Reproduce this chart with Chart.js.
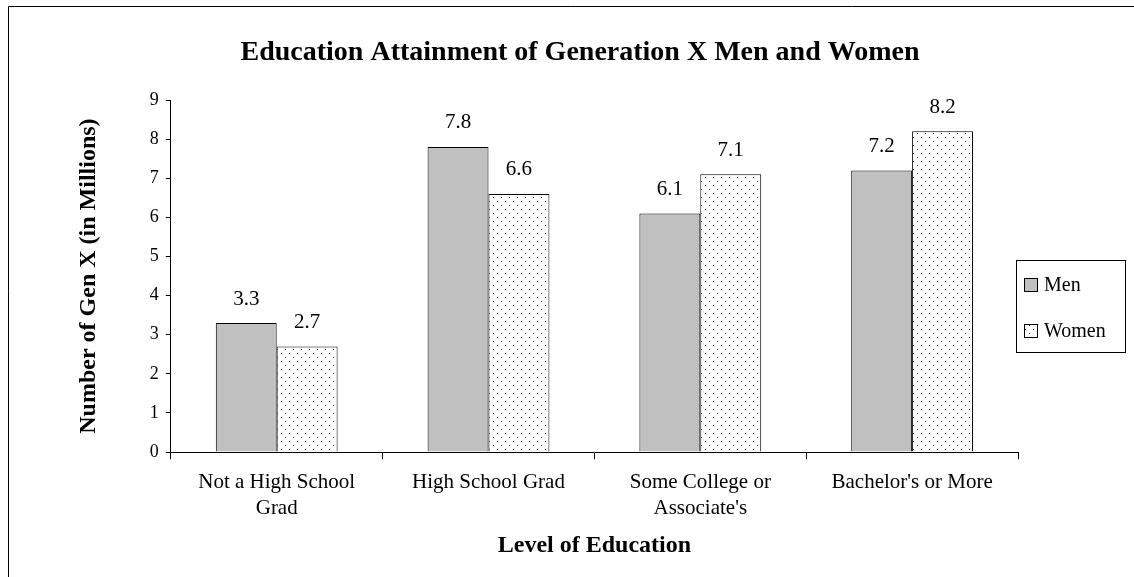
<!DOCTYPE html>
<html><head><meta charset="utf-8">
<script src="https://cdn.jsdelivr.net/npm/chart.js@4/dist/chart.umd.min.js"></script>
<style>html,body{margin:0;padding:0;background:#fff}#wrap{width:1134px;height:577px}</style>
</head><body><div id="wrap"><canvas id="c" width="1134" height="577"></canvas></div>
<script>
const chartTitle = 'Education Attainment of Generation X Men and Women';
const categories = [["Not a High School","Grad"], "High School Grad", ["Some College or","Associate's"], "Bachelor's or More"];
const menValues = [3.3, 7.8, 6.1, 7.2];
const womenValues = [2.7, 6.6, 7.1, 8.2];
const seriesNames = ["Men", "Women"];
const yTicks = [0,1,2,3,4,5,6,7,8,9];

const FONT = "'Liberation Serif', 'Times New Roman', serif";

function makeDots(){
  const p = document.createElement('canvas'); p.width = 8; p.height = 8;
  const g = p.getContext('2d');
  g.fillStyle = '#fff'; g.fillRect(0,0,8,8);
  g.fillStyle = '#333';
  g.fillRect(1,1,1,1); g.fillRect(5,5,1,1);
  return g.createPattern(p, 'repeat');
}
const ctx = document.getElementById('c').getContext('2d');
const dots = makeDots();

const framePlugin = {
  id: 'frame',
  afterDraw(chart){
    const c = chart.ctx;
    c.save();
    c.strokeStyle = '#000'; c.lineWidth = 1;
    c.beginPath();
    c.moveTo(8.5, 577); c.lineTo(8.5, 6.5); c.lineTo(1134, 6.5);
    c.stroke();
    // title
    c.fillStyle = '#000';
    c.font = "bold 28px " + FONT; c.textAlign = 'center'; c.textBaseline = 'middle';
    c.fillText(chartTitle, 580, 53);
    // legend
    c.strokeRect(1016.5, 260.5, 109, 92);
    const items = [{y: 285, fill: '#c0c0c0'}, {y: 331, fill: dots}];
    c.font = "20px " + FONT; c.textAlign = 'left'; c.textBaseline = 'middle';
    items.forEach((it, i) => {
      c.fillStyle = it.fill;
      c.fillRect(1024.5, it.y - 6.5, 13, 13);
      c.strokeRect(1024.5, it.y - 6.5, 13, 13);
      c.fillStyle = '#000';
      c.fillText(seriesNames[i], 1044, it.y + 1);
    });
    // value labels
    c.font = "21px " + FONT; c.textAlign = 'center'; c.textBaseline = 'middle';
    chart.data.datasets.forEach((ds, di) => {
      chart.getDatasetMeta(di).data.forEach((bar, i) => {
        c.fillText(ds.data[i].toFixed(1), bar.x, bar.y - 24);
      });
    });
    c.restore();
  }
};

new Chart(ctx, {
  type: 'bar',
  data: {
    labels: categories,
    datasets: [
      {label: seriesNames[0], data: menValues, backgroundColor: '#c0c0c0', borderColor: '#000', borderWidth: 1, borderSkipped: 'bottom'},
      {label: seriesNames[1], data: womenValues, backgroundColor: dots, borderColor: '#000', borderWidth: 1, borderSkipped: 'bottom'}
    ]
  },
  options: {
    responsive: false,
    animation: false,
    devicePixelRatio: 1,
    layout: {padding: {left: 74, right: 116, top: 100, bottom: 17}},
    categoryPercentage: 0.575,
    barPercentage: 1.0,
    plugins: {
      legend: {display: false},
      tooltip: {enabled: false},
      title: {display: false}
    },
    scales: {
      x: {
        grid: {display: true, offset: true, drawOnChartArea: false, tickLength: 7, color: '#000'},
        border: {color: '#000', width: 1},
        ticks: {color: '#000', font: {family: FONT, size: 21, lineHeight: 1.24}, maxRotation: 0, padding: 10},
        title: {display: true, text: 'Level of Education', color: '#000', font: {family: FONT, size: 24, weight: 'bold'}, padding: {top: 0, bottom: 0}}
      },
      y: {
        min: 0, max: 9,
        afterBuildTicks(axis){ axis.ticks = yTicks.map(v => ({value: v})); },
        grid: {display: true, drawOnChartArea: false, tickLength: 5, color: '#000'},
        border: {color: '#000', width: 1},
        ticks: {color: '#000', font: {family: FONT, size: 18}, padding: 7},
        title: {display: true, text: 'Number of Gen X (in Millions)', color: '#000', font: {family: FONT, size: 24, weight: 'bold'}, padding: {top: 0, bottom: 40}}
      }
    }
  },
  plugins: [framePlugin]
});
</script>
</body></html>
